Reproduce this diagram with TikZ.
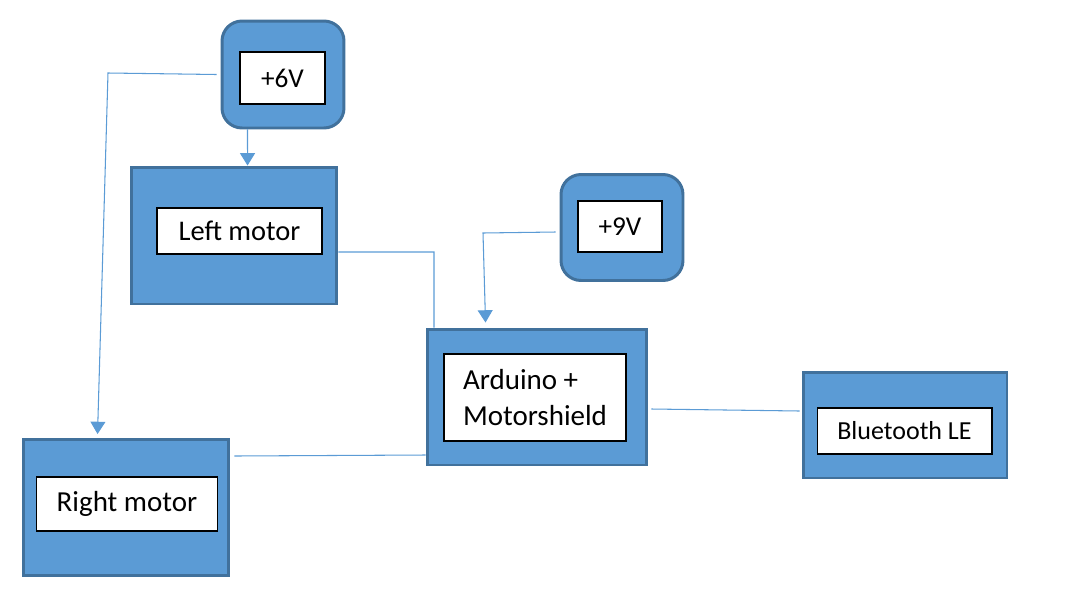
\documentclass[tikz,border=0pt]{standalone}
\usepackage{fontspec}
\setmainfont{Carlito}
\usepackage{xcolor}
\usetikzlibrary{arrows.meta}
\definecolor{boxblue}{HTML}{5B9BD5}
\definecolor{boxedge}{HTML}{41719C}
\tikzset{
  block/.style={draw=boxedge, line width=1.7pt, fill=boxblue, inner sep=0pt},
  supply/.style={block, rounded corners=0.4cm},
  inbox/.style={draw=black, line width=0.6pt, fill=white, inner sep=0pt, font=\fontsize{15.5}{21}\selectfont},
  wire/.style={draw=boxblue, line width=0.6pt},
  feed/.style={wire, -{Triangle[width=8.5pt,length=7pt]}}
}

\begin{document}
\begin{tikzpicture}[x=0.02cm, y=-0.02cm]
\useasboundingbox (0,0) rectangle (1078,609);
\node[supply, minimum width=2.44cm, minimum height=2.14cm] (sixv) at (283,74.5) {};
\node[block, minimum width=4.12cm, minimum height=2.74cm] (lmotor) at (234,235.5) {};
\node[supply, minimum width=2.44cm, minimum height=2.12cm] (ninev) at (622,227.5) {};
\node[block, minimum width=4.4cm, minimum height=2.72cm] (arduino) at (537,397) {};
\node[block, minimum width=4.08cm, minimum height=2.12cm] (bt) at (905,425) {};
\node[block, minimum width=4.12cm, minimum height=2.72cm] (rmotor) at (126,507.5) {};
\node[inbox, minimum width=1.7cm, minimum height=1.04cm] (sixvl) at (282.5,78) {+6V};
\node[inbox, minimum width=3.3cm, minimum height=0.92cm, font=\fontsize{16.2}{21}\selectfont] (lmotorl) at (239.5,231) {\raisebox{-2pt}{Left motor}};
\node[inbox, minimum width=1.68cm, minimum height=1.02cm] (ninevl) at (620,226.5) {+9V};
\node[inbox, minimum width=3.64cm, minimum height=1.74cm, align=left, font=\fontsize{16.5}{21}\selectfont] (arduinol) at (535,397.5) {Arduino +\\Motorshield};
\node[inbox, minimum width=3.5cm, minimum height=0.92cm, font=\fontsize{14.8}{18}\selectfont] (btl) at (904.5,431) {\raisebox{-1.5pt}{Bluetooth LE}};
\node[inbox, minimum width=3.62cm, minimum height=1.08cm, font=\fontsize{16.5}{21}\selectfont] (rmotorl) at (127,504) {Right motor};

\coordinate (b1) at (108,73);
\coordinate (rin) at ([shift={(76,-4)}]rmotor.north west);
\coordinate (sixvout) at ([shift={(27,0)}]sixv.south west);
\coordinate (lin) at ([shift={(118,0)}]lmotor.north west);
\coordinate (lout) at ([shift={(0,16.5)}]lmotor.east);
\coordinate (b2) at (434,252);
\coordinate (b3) at (483,233);
\coordinate (ain) at ([shift={(60,-5)}]arduino.north west);
\coordinate (nout) at ([shift={(-4,4.5)}]ninev.west);
\coordinate (aout) at ([shift={(3,12)}]arduino.east);
\coordinate (btin) at ([shift={(-2,-14)}]bt.west);
\coordinate (rout) at ([shift={(4,-51.5)}]rmotor.east);
\coordinate (aleft) at ([shift={(0,58)}]arduino.west);

\draw[feed] ([xshift=-0.08cm]sixv.west) -- (b1) -- (rin);
\draw[feed] (sixvout) -- (lin);
\draw[wire] (lout) -- (b2) -- (b2 |- arduino.north);
\draw[feed] (nout) -- (b3) -- (ain);
\draw[wire] (aout) -- (btin);
\draw[wire] (rout) -- (aleft);
\end{tikzpicture}
\end{document}
